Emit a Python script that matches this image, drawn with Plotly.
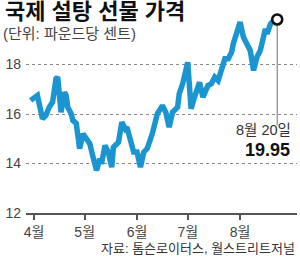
import plotly.graph_objects as go

# ---- data ----
dates = [
    "2012-03-30", "2012-04-03", "2012-04-06", "2012-04-08", "2012-04-10", "2012-04-12",
    "2012-04-14", "2012-04-15", "2012-04-17", "2012-04-19", "2012-04-20", "2012-04-21",
    "2012-04-23", "2012-04-24", "2012-04-26", "2012-04-28", "2012-04-30", "2012-05-02",
    "2012-05-04", "2012-05-06", "2012-05-08", "2012-05-10", "2012-05-11", "2012-05-13",
    "2012-05-15", "2012-05-17", "2012-05-18", "2012-05-21", "2012-05-23", "2012-05-25",
    "2012-05-26", "2012-05-30", "2012-06-01", "2012-06-03", "2012-06-05", "2012-06-07",
    "2012-06-10", "2012-06-13", "2012-06-16", "2012-06-18", "2012-06-20", "2012-06-22",
    "2012-06-25", "2012-06-26", "2012-06-28", "2012-07-01", "2012-07-03", "2012-07-05",
    "2012-07-08", "2012-07-10", "2012-07-13", "2012-07-15", "2012-07-17", "2012-07-19",
    "2012-07-21", "2012-07-23", "2012-07-25", "2012-07-27", "2012-07-28", "2012-07-31",
    "2012-08-01", "2012-08-03", "2012-08-05", "2012-08-07", "2012-08-09", "2012-08-11",
    "2012-08-13", "2012-08-15", "2012-08-16", "2012-08-17", "2012-08-19", "2012-08-21",
    "2012-08-23",
]
prices = [
    16.55, 16.75, 15.81, 15.94, 16.27, 16.48,
    17.42, 17.49, 16.07, 16.88, 16.75, 16.27,
    16.01, 15.74, 15.62, 14.60, 15.20, 15.00,
    14.80, 14.25, 13.72, 14.19, 13.99, 14.73,
    14.46, 13.85, 14.66, 14.86, 15.67, 15.40,
    15.47, 14.46, 14.46, 13.85, 14.46, 14.60,
    15.20, 16.01, 16.34, 16.07, 15.47, 16.07,
    16.27, 16.82, 17.22, 18.09, 16.21, 16.68,
    17.28, 16.68, 17.15, 17.22, 17.49, 17.35,
    17.76, 18.23, 18.23, 18.50, 18.84, 19.50,
    19.71, 19.10, 18.84, 18.57, 17.76, 18.30,
    18.57, 19.10, 19.44, 19.24, 19.64, 19.78,
    19.82,
]
month_ticks = ["2012-04-01", "2012-05-01", "2012-06-01", "2012-07-01", "2012-08-01"]
month_labels = ["4월", "5월", "6월", "7월", "8월"]
y_ticks = [12, 14, 16, 18]
title_text = "국제 설탕 선물 가격"
unit_text = "(단위: 파운드당 센트)"
last_date_text = "8월 20일"
last_value_text = "19.95"
source_text = "자료: 톰슨로이터스, 월스트리트저널"

# ---- layout geometry ----
W, H = 300, 259
L, R, T, B = 26, 3, 10, 46
PW, PH = W - L - R, H - T - B
Y_RANGE = [12, 12 + PH / 24.75]
X_RANGE = ["2012-03-27 06:00", "2012-09-03 17:00"]


def px(x):
    return (x - L) / PW


def py(y):
    return (H - B - y) / PH


FONT = "Liberation Sans, Noto Sans CJK KR, sans-serif"
BLUE = "#1b95cf"

fig = go.Figure()
fig.add_trace(go.Scatter(
    x=dates, y=prices, mode="lines",
    line=dict(color=BLUE, width=5.5, shape="linear"),
    hoverinfo="skip", showlegend=False,
))
fig.add_trace(go.Scatter(
    x=[dates[-1]], y=[prices[-1]], mode="markers",
    marker=dict(size=10, color="white", line=dict(color="#111111", width=2.6)),
    hoverinfo="skip", showlegend=False,
))

fig.add_shape(type="line", xref="x", yref="y",
              x0=dates[-1], x1=dates[-1], y0=prices[-1], y1=15.55,
              line=dict(color="#888888", width=1.2), layer="below")

annos = [
    dict(text=f"<b>{title_text}</b>", x=px(3), y=py(12), xanchor="left", yanchor="middle",
         font=dict(size=22, color="#111111", family=FONT)),
    dict(text=unit_text, x=px(1), y=py(33.5), xanchor="left", yanchor="middle",
         font=dict(size=15, color="#444444", family=FONT)),
    dict(text=last_date_text, x=px(293), y=py(130), xanchor="right", yanchor="middle",
         font=dict(size=14.5, color="#333333", family=FONT)),
    dict(text=f"<b>{last_value_text}</b>", x=px(292), y=py(150), xanchor="right", yanchor="middle",
         font=dict(size=18, color="#111111", family=FONT)),
    dict(text=source_text, x=px(297), y=py(248), xanchor="right", yanchor="middle",
         font=dict(size=13, color="#333333", family=FONT)),
]
for a in annos:
    a.update(xref="paper", yref="paper", showarrow=False)
    fig.add_annotation(**a)

fig.update_layout(
    width=W, height=H,
    margin=dict(l=L, r=R, t=T, b=B, pad=0),
    paper_bgcolor="white", plot_bgcolor="white",
    font=dict(family=FONT, color="#444444", size=14),
    xaxis=dict(
        type="date", range=X_RANGE,
        tickvals=month_ticks, ticktext=month_labels,
        ticks="outside", ticklen=5, tickwidth=1.5, tickcolor="#555555",
        showline=True, linecolor="#555555", linewidth=1.5,
        showgrid=False, zeroline=False,
        tickfont=dict(size=14, color="#444444", family=FONT),
        fixedrange=True,
    ),
    yaxis=dict(
        range=Y_RANGE, tickvals=y_ticks, ticktext=[str(v) for v in y_ticks],
        ticks="", showline=False, zeroline=False,
        showgrid=True, gridcolor="#888888", gridwidth=1, griddash="dot",
        tickfont=dict(size=14, color="#444444", family=FONT),
        ticklabelstandoff=4,
        fixedrange=True,
    ),
)

fig.write_html("out.html", config={"displayModeBar": False})
